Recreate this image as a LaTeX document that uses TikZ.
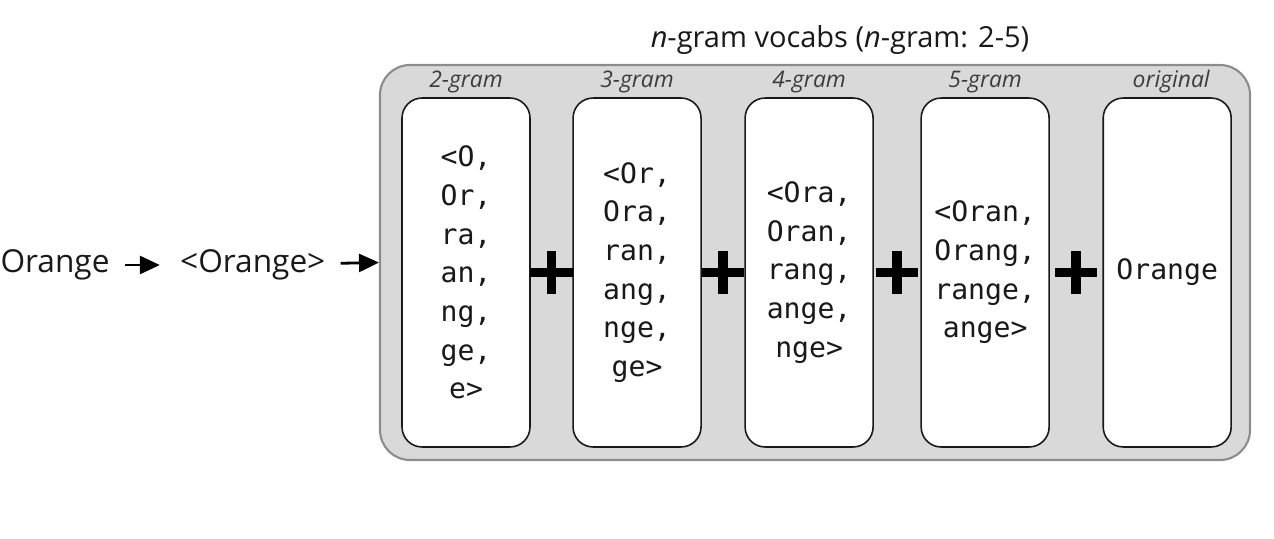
\documentclass[tikz,border=0pt]{standalone}
\usepackage{fontspec}
\setmainfont{Open Sans}
\setmonofont{DejaVu Sans Mono}
\usetikzlibrary{arrows.meta, positioning, fit, calc, shapes.misc}
\definecolor{panelgray}{RGB}{217,217,217}
\definecolor{paneledge}{RGB}{140,140,140}
\definecolor{labelgray}{RGB}{60,60,60}
\definecolor{inkblack}{RGB}{25,25,25}
\tikzset{
    gramsbox/.style={
        rectangle,
        draw=inkblack,
        line width=0.9pt,
        rounded corners=0.4cm,
        fill=white,
        minimum width=2.56cm,
        minimum height=6.98cm,
        align=center,
        text=inkblack,
        font=\ttfamily\fontsize{16}{22}\selectfont
    },
    panel/.style={
        rectangle,
        draw=paneledge,
        line width=1.2pt,
        fill=panelgray,
        rounded corners=0.6cm,
        inner sep=0pt
    },
    gramlabel/.style={
        text=labelgray,
        inner sep=1pt,
        font=\itshape\fontsize{13}{15}\selectfont
    },
    word/.style={
        text=inkblack,
        inner xsep=0.3cm,
        font=\fontsize{18}{22}\selectfont
    },
    plusmark/.style={
        cross out,
        draw=black,
        line width=0.19cm,
        rotate=45,
        minimum size=0.41cm,
        inner sep=0pt
    },
    flow/.style={
        draw=black,
        line width=1.6pt,
        -{Triangle[length=0.4cm, width=0.36cm]}
    }
}

\begin{document}
\begin{tikzpicture}[x=0.02cm, y=-0.02cm]
\useasboundingbox (0,0) rectangle (1274,538);

% title and grey panel
\node[text=inkblack, font=\fontsize{16.5}{20}\selectfont] (title) at (840,40) {\textit{n}-gram vocabs (\textit{n}-gram: 2-5)};
\node[panel, fit={(380,65) (1250,460)}] (vocab) {};

% input word
\node[word] (plain) at (55,265) {Orange};
\node[word, right=0.8cm of plain] (bracketed) {<Orange>};
\draw[flow, shorten >=0.1cm] (plain) -- (bracketed);
\draw[flow] (bracketed) -- (vocab.west);

% n-gram columns
\node[gramsbox] (g2) at (466,272.5) {<O,\\Or,\\ra,\\an,\\ng,\\ge,\\e>};
\node[gramsbox, right=0.83cm of g2] (g3) {<Or,\\Ora,\\ran,\\ang,\\nge,\\ge>};
\node[gramsbox, right=0.85cm of g3] (g4) {<Ora,\\Oran,\\rang,\\ange,\\nge>};
\node[gramsbox, right=0.93cm of g4] (g5) {<Oran,\\Orang,\\range,\\ange>};
\node[gramsbox, right=1.05cm of g5] (orig) {Orange};

\node[gramlabel, above=0.05cm of g2] {2-gram};
\node[gramlabel, above=0.05cm of g3] {3-gram};
\node[gramlabel, above=0.05cm of g4] {4-gram};
\node[gramlabel, above=0.05cm of g5] {5-gram};
\node[gramlabel, above=0.05cm of orig, xshift=0.08cm] {original};

% plus signs
\node[plusmark] (plusA) at ($(g2.east)!0.5!(g3.west)$) {};
\node[plusmark] (plusB) at ($(g3.east)!0.5!(g4.west)$) {};
\node[plusmark] (plusC) at ($(g4.east)!0.5!(g5.west)$) {};
\node[plusmark] (plusD) at ($(g5.east)!0.5!(orig.west)$) {};

\end{tikzpicture}
\end{document}
